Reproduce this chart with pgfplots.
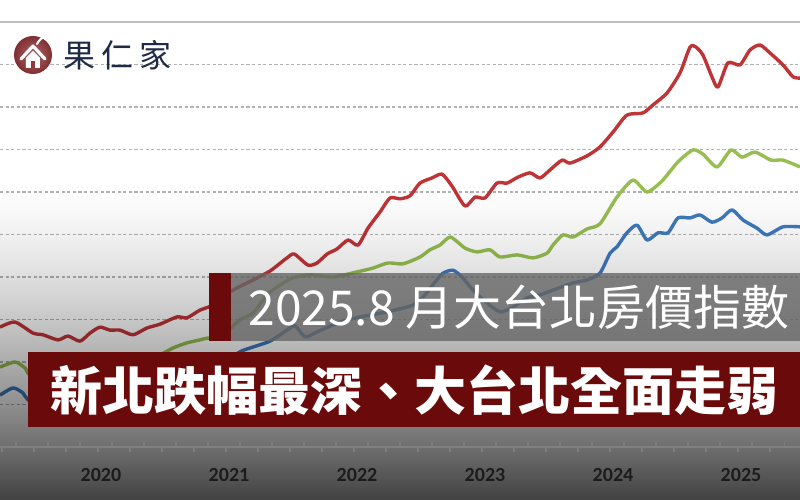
\documentclass[border=0pt]{standalone}
\usepackage{fontspec}
\usepackage{pgfplots}
\pgfplotsset{compat=1.18}
\newfontfamily\cjk{Noto Sans CJK TC}
\newfontfamily\carlito{Carlito}
\definecolor{cred}{RGB}{192,52,56}
\definecolor{cgreen}{RGB}{150,190,80}
\definecolor{cblue}{RGB}{62,122,190}
\definecolor{bannerred}{RGB}{106,10,11}
\definecolor{boxgray}{RGB}{102,102,102}
\definecolor{logored}{RGB}{150,55,58}
\definecolor{navy}{RGB}{30,42,72}
\definecolor{tickgray}{RGB}{128,128,128}
\definecolor{labelblack}{RGB}{28,28,28}

\pgfplotstableread{
x y
2019.711 88.2
2019.828 89.4
2019.969 86.8
2020.047 86.4
2020.164 85.2
2020.242 86.1
2020.336 84.9
2020.414 86.8
2020.492 88.2
2020.570 87.5
2020.648 87.5
2020.750 86.4
2020.859 88.0
2020.961 88.9
2021.094 90.6
2021.172 90.4
2021.273 92.2
2021.375 93.4
2021.531 96.9
2021.688 99.3
2021.820 101.4
2021.953 104.5
2022.010 105.4
2022.117 102.8
2022.188 103.3
2022.266 105.4
2022.344 106.6
2022.430 108.7
2022.508 107.5
2022.586 111.5
2022.680 115.3
2022.758 118.6
2022.836 118.4
2022.914 119.1
2022.992 122.1
2023.086 123.3
2023.164 124.2
2023.242 121.4
2023.344 116.7
2023.422 118.8
2023.500 118.6
2023.594 122.1
2023.672 122.1
2023.758 123.5
2023.852 124.5
2023.930 123.3
2024.008 125.2
2024.102 127.5
2024.164 126.8
2024.297 128.5
2024.398 130.6
2024.500 134.1
2024.609 138.1
2024.734 138.6
2024.813 140.5
2024.922 143.3
2025.023 148.0
2025.102 154.1
2025.148 154.1
2025.203 152.2
2025.273 147.1
2025.320 144.7
2025.398 150.4
2025.492 149.9
2025.570 153.4
2025.648 154.6
2025.727 152.7
2025.828 149.9
2025.906 147.1
2025.961 146.8
}\redtab

\pgfplotstableread{
x y
2019.711 78.8
2019.828 80.0
2019.906 78.6
2019.945 76.9
2020.102 75.3
2020.336 74.6
2020.570 75.8
2020.805 78.6
2020.961 81.6
2021.063 83.3
2021.172 84.5
2021.273 85.2
2021.328 85.6
2021.430 85.9
2021.586 89.9
2021.688 91.5
2021.797 95.8
2021.898 98.1
2022.000 99.8
2022.133 100.5
2022.313 100.0
2022.500 101.2
2022.625 102.1
2022.742 103.3
2022.859 103.1
2022.992 104.7
2023.070 106.4
2023.148 107.5
2023.230 109.4
2023.344 106.8
2023.438 105.9
2023.539 106.4
2023.617 104.7
2023.750 105.2
2023.875 104.5
2023.984 105.6
2024.031 107.5
2024.109 109.9
2024.188 109.4
2024.297 111.3
2024.398 112.5
2024.531 118.8
2024.656 122.8
2024.766 120.0
2024.883 122.6
2025.008 127.1
2025.125 129.9
2025.203 128.9
2025.313 125.9
2025.422 129.9
2025.508 128.2
2025.609 129.4
2025.734 127.5
2025.828 127.5
2025.961 125.9
}\greentab

\pgfplotstableread{
x y
2019.711 72.2
2019.813 73.9
2019.891 72.7
2019.930 71.1
2020.102 68.7
2020.336 68.2
2020.570 69.2
2020.805 71.1
2021.039 72.9
2021.273 75.8
2021.469 80.0
2021.586 82.4
2021.664 83.3
2021.820 84.9
2021.953 87.5
2022.016 88.5
2022.094 85.9
2022.188 87.1
2022.367 89.4
2022.523 90.6
2022.734 91.8
2022.938 93.4
2023.031 95.8
2023.109 98.8
2023.172 100.9
2023.250 101.6
2023.320 100.0
2023.406 96.9
2023.516 93.9
2023.617 91.8
2023.719 92.9
2023.828 95.1
2023.930 95.8
2024.031 96.9
2024.188 98.6
2024.297 99.3
2024.398 100.9
2024.477 105.6
2024.531 107.1
2024.609 110.4
2024.688 112.2
2024.766 108.7
2024.852 110.4
2024.930 110.4
2025.008 113.9
2025.102 113.9
2025.180 114.6
2025.273 112.9
2025.352 113.9
2025.430 115.8
2025.516 113.4
2025.625 111.5
2025.703 109.9
2025.828 111.8
2025.961 111.8
}\bluetab

\begin{document}
\begin{tikzpicture}
\useasboundingbox (0,0) rectangle (400bp,250bp);
\clip (0,0) rectangle (400bp,250bp);
\fill[white] (0,0) rectangle (400bp,250bp);

% chart
\begin{axis}[
  at={(0,26.5bp)}, anchor=south west,
  width=400bp, height=212.5bp, scale only axis,
  xmin=2019.711, xmax=2025.961, ymin=60, ymax=160,
  axis line style={draw=none},
  xtick=\empty, ytick={70,80,...,150}, yticklabels={},
  major tick length=0pt,
  ymajorgrids,
  grid style={gray!60, line width=0.6bp, dash pattern=on 1.6bp off 1.2bp},
  every axis plot/.append style={line width=1.7bp, smooth, tension=0.4, line join=round, no markers},
]
\addplot[cred] table[x=x,y=y] {\redtab};
\addplot[cgreen] table[x=x,y=y] {\greentab};
\addplot[cblue] table[x=x,y=y] {\bluetab};
\end{axis}

% darkening gradient (eased), built from 1bp strips from y=160bp down to 0
\foreach \i in {0,...,159} {
  \pgfmathsetmacro\op{0.74*((\i+0.5)/160)^1.46}
  \fill[black, fill opacity=\op] (0,{(159-\i)*1bp}) rectangle (400bp,{(160-\i)*1bp});
}

% axis ticks and year labels
\begin{axis}[
  at={(0,26.5bp)}, anchor=south west,
  width=400bp, height=212.5bp, scale only axis,
  xmin=2019.711, xmax=2025.961, ymin=60, ymax=160,
  axis y line=none, axis x line*=bottom,
  axis line style={-, draw=tickgray, line width=0.8bp},
  xtick={2020.5,2021.5,2022.5,2023.5,2024.5,2025.5},
  xticklabels={2020,2021,2022,2023,2024,2025},
  major tick length=0pt,
  minor xtick={2019.727,2019.977,...,2025.8},
  minor tick length=2.5bp,
  tick align=outside,
  extra x ticks={2019.836,2020.086,...,2025.9},
  extra x tick labels={},
  extra x tick style={tick align=inside, major tick length=2.5bp},
  tick style={draw=tickgray, line width=0.8bp},
  xticklabel style={font=\carlito\bfseries\fontsize{10bp}{12bp}\selectfont, text=labelblack, yshift=-7bp},
]
\end{axis}

\begin{scope}[x=0.5bp, y=-0.5bp, yshift=250bp]
  % top border
  \draw[gray!50, line width=1.2bp] (0,22) -- (800,22);
  % logo
  \shade[inner color=logored!75!white, outer color=logored!85!black] (33,55) circle (19);
  \fill[white] (26,58) -- (26,68) -- (40,68) -- (40,58) -- (33,51) -- cycle;
  \fill[logored] (31,61) rectangle (35.5,68);
  \draw[white, line width=1.6bp, line cap=round, line join=round] (21,59) -- (33,46) -- (45,59);
  \draw[white, line width=1.1bp, line cap=round] (37,44) to[bend left=20] (46,36);
  \node[anchor=west, inner sep=0pt, text=navy, font=\cjk\fontsize{16bp}{18bp}\selectfont] at (63,55) {果\hspace{3bp}仁\hspace{3bp}家};
  % gray banner
  \fill[boxgray, fill opacity=0.8] (231,273) rectangle (800,341);
  \fill[bannerred] (209,273) rectangle (231,341);
  \node[anchor=west, inner sep=0pt, text=white, font=\cjk\fontsize{24bp}{28bp}\selectfont] at (248,307) {2025.8 月大台北房價指數};
  % red banner
  \fill[bannerred] (28,352) rectangle (800,427);
  \node[anchor=west, inner sep=0pt, text=white, font=\cjk\bfseries\fontsize{26bp}{30bp}\selectfont] at (50,390) {新北跌幅最深、大台北全面走弱};
\end{scope}
\end{tikzpicture}
\end{document}
